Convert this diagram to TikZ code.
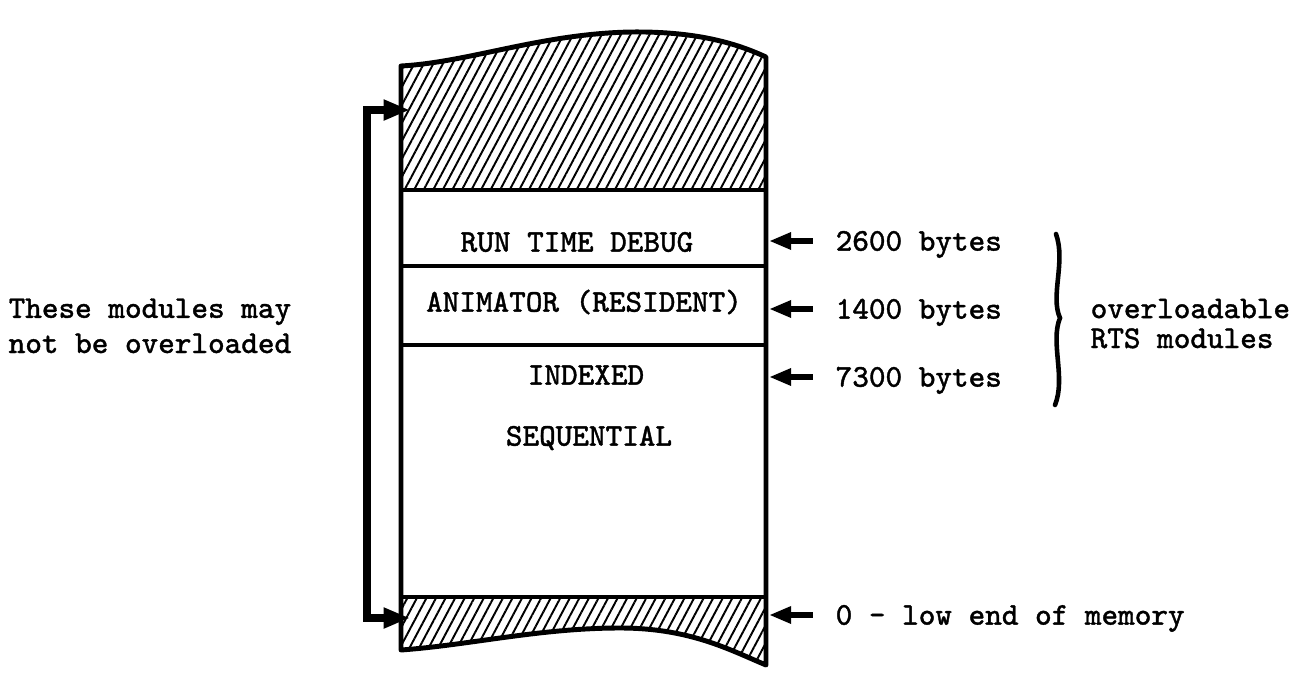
\documentclass[tikz,border=0pt]{standalone}
\usepackage{fontspec}
\setmonofont{Latin Modern Mono}[FakeBold=1.2]
\usetikzlibrary{arrows.meta,patterns.meta}

\begin{document}
\begin{tikzpicture}[x=0.01cm,y=-0.01cm,
  txt/.style={font=\ttfamily\fontsize{9}{10}\selectfont,inner sep=0pt,text height=5.5pt,text depth=0pt},
  note/.style={font=\ttfamily\fontsize{9}{#1}\selectfont,inner sep=0pt,align=left,anchor=base west},
  wall/.style={line width=1.4pt,line join=round},
  hatch/.style={pattern={Lines[angle=62,distance=2.4pt,line width=0.55pt]}},
  sizearrow/.style={-{Triangle[length=6.3pt,width=4.6pt]},line width=1.6pt},
  bracket/.style={{Triangle[length=7.5pt,width=5.5pt]}-{Triangle[length=7.5pt,width=5.5pt]},line width=2.4pt}]
\useasboundingbox (0,0) rectangle (1299,681);
% hatched ends
\fill[hatch] (401,190) -- (401,66) .. controls (470,62) and (540,34) .. (630,32) .. controls (700,31) and (740,45) .. (766,57) -- (766,190) -- cycle;
\fill[hatch] (401,597) -- (401,650) .. controls (470,645) and (540,628) .. (620,628) .. controls (690,628) and (730,650) .. (766,665) -- (766,597) -- cycle;
% memory column
\draw[wall] (401,650) -- (401,66) .. controls (470,62) and (540,34) .. (630,32) .. controls (700,31) and (740,45) .. (766,57)
  -- (766,665) .. controls (730,650) and (690,628) .. (620,628) .. controls (540,628) and (470,645) .. (401,650) -- cycle;
\foreach \y in {190,266,345,597}
  \draw[wall] (401,\y) -- (766,\y);
% modules
\node[txt] (debug) at (577,242) {RUN TIME DEBUG};
\node[txt] (animator) at (584,302) {ANIMATOR (RESIDENT)};
\node[txt] (indexed) at (586,375) {INDEXED};
\node[txt] (sequential) at (589,436) {SEQUENTIAL};
% sizes
\coordinate (rwall) at (769,0);
\node[txt,anchor=west] (size2600) at (835,241) {2600 bytes};
\node[txt,anchor=west] (size1400) at (835,309) {1400 bytes};
\node[txt,anchor=west] (size7300) at (835,377) {7300 bytes};
\node[txt,anchor=west] (lowend) at (835,615) {0 - low end of memory};
\foreach \n in {size2600,size1400,size7300,lowend}
  \draw[sizearrow] ([xshift=-0.22cm]\n.west) -- (\n.west -| rwall);
% brace and notes
\draw[line width=1.3pt,line cap=round] (1056,234) .. controls (1066,262) and (1050,296) .. (1060,318)
  .. controls (1050,342) and (1066,378) .. (1055,405);
\node[note=8.5] (overload) at (1090,348) {overloadable\\RTS modules};
\node[note=10] (fixed) at (8,353) {These modules may\\not be overloaded};
% resident range
\coordinate (topin) at (410,110);
\coordinate (botin) at (410,618);
\draw[bracket] (topin) -- (367,110) -- (367,618) -- (botin);
\end{tikzpicture}
\end{document}
